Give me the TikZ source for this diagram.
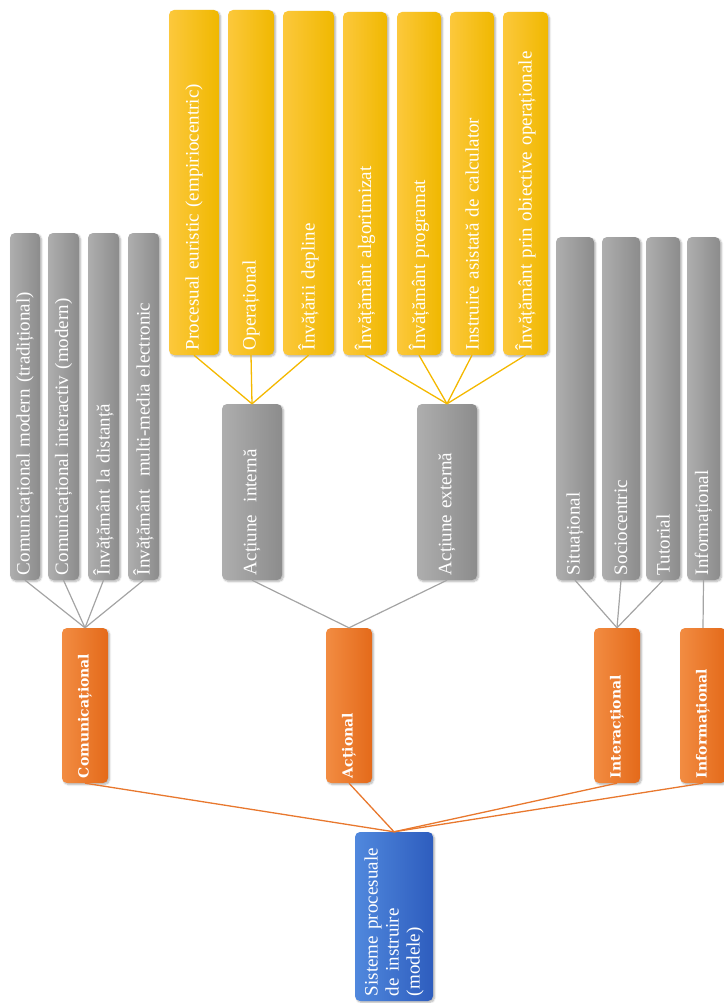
\documentclass[tikz,border=0pt]{standalone}
\usepackage{fontspec}
\setmainfont{Liberation Serif}
\newfontfamily\slabfont{DejaVu Serif}
\usetikzlibrary{shadows.blur}

\definecolor{grayA}{HTML}{AEAEAE}
\definecolor{grayB}{HTML}{8C8C8C}
\definecolor{yelA}{HTML}{FCC83C}
\definecolor{yelB}{HTML}{F0B800}
\definecolor{orA}{HTML}{F28C42}
\definecolor{orB}{HTML}{E46A1A}
\definecolor{bluA}{HTML}{5088DD}
\definecolor{bluB}{HTML}{2E5DBE}
\definecolor{grayline}{HTML}{A4A4A4}
\definecolor{yelline}{HTML}{F4B800}
\definecolor{orline}{HTML}{E8782E}

\tikzset{
  box/.style={rectangle, rounded corners=5pt, rotate=90, inner ysep=0pt,
    text=white, align=left,
    font=\fontsize{19}{21}\selectfont,
    blur shadow={shadow blur steps=6, shadow xshift=1.5pt,
      shadow yshift=-1.5pt, shadow opacity=30}},
  graybox/.style={box, left color=grayA, right color=grayB},
  yelbox/.style={box, left color=yelA, right color=yelB},
  orbox/.style={box, left color=orA, right color=orB,
    font=\slabfont\bfseries\fontsize{14}{17}\selectfont},
  blubox/.style={box, left color=bluA, right color=bluB},
  gline/.style={draw=grayline, line width=1.2pt},
  yline/.style={draw=yelline, line width=1.3pt},
  oline/.style={draw=orline, line width=1.3pt},
}

% \bx{name}{x1}{y1}{x2}{y2}{style}{text}: a box standing upright,
% its text read from bottom to top, starting at the lower end
\newcommand\bx[7]{%
  \pgfmathsetmacro\bxlen{#5-#3}%
  \pgfmathsetmacro\bxwid{#4-#2}%
  \pgfmathsetmacro\bxtxt{#5-#3-10}%
  \node[#6, minimum width=\bxlen pt, minimum height=\bxwid pt,
        text width=\bxtxt pt, inner xsep=5pt]
    (#1) at ({(#2+#4)/2},{-(#3+#5)/2}) {#7};}

\begin{document}
\begin{tikzpicture}[x=1pt,y=1pt]
\useasboundingbox (0,0) rectangle (723,-1003);

% root
\bx{root}{355}{832}{433}{1001}{blubox}{Sisteme procesuale\\de instruire\\(modele)}

% first level
\bx{comm}{62}{628}{108}{783}{orbox}{Comunicațional}
\bx{act}{326}{628}{372}{783}{orbox}{Acțional}
\bx{inter}{594}{628}{640}{783}{orbox}{Interacțional}
\bx{info}{680}{628}{726}{783}{orbox}{Informațional}

% communicational models
\bx{c1}{10}{233}{40}{580}{graybox}{Comunicațional modern (tradițional)}
\bx{c2}{48}{233}{79}{580}{graybox}{Comunicațional interactiv (modern)}
\bx{c3}{88}{233}{119}{580}{graybox}{Învățământ la distanță}
\bx{c4}{128}{233}{159}{580}{graybox}{Învățământ~ multi-media electronic}

% action models
\bx{ai}{222}{404}{282}{580}{graybox}{Acțiune~ internă}
\bx{ae}{417}{404}{477}{580}{graybox}{Acțiune externă}

\bx{y1}{169}{10}{219}{355}{yelbox}{Procesual euristic (empiriocentric)}
\bx{y2}{228}{10}{274}{355}{yelbox}{Operațional}
\bx{y3}{283}{11}{334}{355}{yelbox}{Învățării depline}
\bx{y4}{343}{12}{387}{355}{yelbox}{Învățământ algoritmizat}
\bx{y5}{397}{12}{441}{355}{yelbox}{Învățământ programat}
\bx{y6}{450}{12}{494}{355}{yelbox}{Instruire asistată de calculator}
\bx{y7}{503}{12}{548}{355}{yelbox}{Învățământ prin obiective operaționale}

% interaction and information models
\bx{s1}{556}{237}{594}{580}{graybox}{Situațional}
\bx{s2}{602}{237}{640}{580}{graybox}{Sociocentric}
\bx{s3}{646}{237}{680}{580}{graybox}{Tutorial}
\bx{s4}{687}{237}{720}{580}{graybox}{Informațional}

% connectors
\foreach \n in {comm,act,inter,info} \draw[oline] (root.east) -- (\n.west);
\foreach \n in {c1,c2,c3,c4} \draw[gline] (\n.west) -- (comm.east);
\foreach \n in {ai,ae} \draw[gline] (\n.west) -- (act.east);
\foreach \n in {y1,y2,y3} \draw[yline] (\n.west) -- (ai.east);
\foreach \n in {y4,y5,y6,y7} \draw[yline] (\n.west) -- (ae.east);
\foreach \n in {s1,s2,s3} \draw[gline] (\n.west) -- (inter.east);
\draw[gline] (s4.west) -- (info.east);
\end{tikzpicture}
\end{document}
